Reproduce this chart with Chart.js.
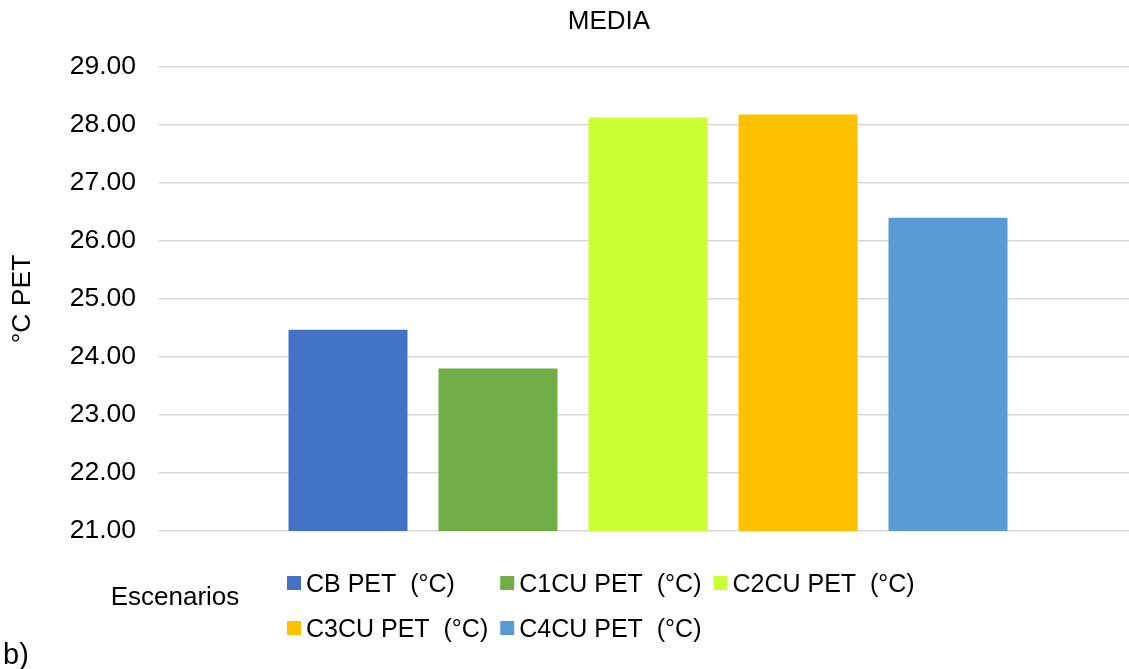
<!DOCTYPE html>
<html>
<head>
<meta charset="utf-8">
<title>MEDIA</title>
<script src="https://cdn.jsdelivr.net/npm/chart.js@4.4.1/dist/chart.umd.min.js"></script>
<style>
	html, body { margin: 0; padding: 0; background: #ffffff; }
	canvas { display: block; }
</style>
</head>
<body>
<canvas id="media" width="1129" height="669"></canvas>
<script>

	/* Data */

	var categories = ['Escenarios'];
	var seriesNames = ['CB PET  (°C)', 'C1CU PET  (°C)', 'C2CU PET  (°C)', 'C3CU PET  (°C)', 'C4CU PET  (°C)'];
	var cbPet = [24.47];
	var c1cuPet = [23.80];
	var c2cuPet = [28.13];
	var c3cuPet = [28.18];
	var c4cuPet = [26.40];
	var yTicks = [21, 22, 23, 24, 25, 26, 27, 28, 29];

	var seriesValues = [cbPet, c1cuPet, c2cuPet, c3cuPet, c4cuPet];
	var seriesColors = ['#4472C4', '#70AD47', '#CCFF33', '#FFC000', '#5B9BD5'];

	var FONT = '"Liberation Sans", Arial, sans-serif';

	var datasets = [];
	seriesNames.forEach(function(name, i) {
		datasets.push({
			label: name,
			data: seriesValues[i],
			backgroundColor: seriesColors[i],
			borderWidth: 0,
			categoryPercentage: 750 / 978,
			barPercentage: 119 / 150
		});
	});


	/* Title, category name, legend and panel letter (Excel style) */

	var extrasPlugin = {
		id: 'extras',
		afterLayout: function(chart) {
			// Excel's category band runs a little past the right edge
			var x = chart.scales.x;
			x.right += 8;
			x.width += 8;
			x.configure();
		},
		afterDraw: function(chart) {
			var ctx = chart.ctx;
			ctx.save();
			ctx.fillStyle = '#000000';
			ctx.textBaseline = 'alphabetic';

			ctx.font = '26px ' + FONT;
			ctx.textAlign = 'center';
			ctx.fillText('MEDIA', 609, 29);
			ctx.fillText(categories[0], 175, 605);

			// legend laid out in columns, 3 per row
			ctx.font = '25px ' + FONT;
			ctx.textAlign = 'left';
			var perRow = 3;
			var box = 14, gap = 5, spacing = 12;
			var items = chart.data.datasets;
			var colW = [0, 0, 0];
			items.forEach(function(ds, i) {
				var w = box + gap + ctx.measureText(ds.label).width + spacing;
				colW[i % perRow] = Math.max(colW[i % perRow], w);
			});
			var colX = [287];
			for (var c = 1; c < perRow; c++) colX[c] = colX[c - 1] + colW[c - 1];
			items.forEach(function(ds, i) {
				var x = colX[i % perRow];
				var base = 592 + Math.floor(i / perRow) * 45;
				ctx.fillStyle = ds.backgroundColor;
				ctx.fillRect(x, base - 16, box, box);
				ctx.fillStyle = '#000000';
				ctx.fillText(ds.label, x + box + gap, base);
			});

			ctx.font = '29px ' + FONT;
			ctx.fillText('b)', 3, 664);
			ctx.restore();
		}
	};


	/* Chart */

	var mediaChart = new Chart(document.getElementById('media'), {
		type: 'bar',
		data: {
			labels: categories,
			datasets: datasets
		},
		plugins: [extrasPlugin],
		options: {
			responsive: false,
			animation: false,
			devicePixelRatio: 1,
			layout: {
				padding: { left: 7, right: 0, top: 67, bottom: 138 }
			},
			plugins: {
				legend: { display: false },
				title: { display: false },
				tooltip: { enabled: false }
			},
			scales: {
				x: {
					display: false
				},
				y: {
					min: yTicks[0],
					max: yTicks[yTicks.length - 1],
					afterBuildTicks: function(scale) {
						scale.ticks = yTicks.map(function(v) { return { value: v }; });
					},
					afterFit: function(scale) {
						scale.width = 152;
					},
					border: { display: false },
					grid: {
						color: '#d9d9d9',
						lineWidth: 1.5,
						drawTicks: false
					},
					ticks: {
						padding: 23,
						color: '#000000',
						font: { family: FONT, size: 26.5 },
						callback: function(v) { return Number(v).toFixed(2); }
					},
					title: {
						display: true,
						text: '°C PET',
						color: '#000000',
						padding: 0,
						font: { family: FONT, size: 26.5 }
					}
				}
			}
		}
	});

</script>
</body>
</html>
